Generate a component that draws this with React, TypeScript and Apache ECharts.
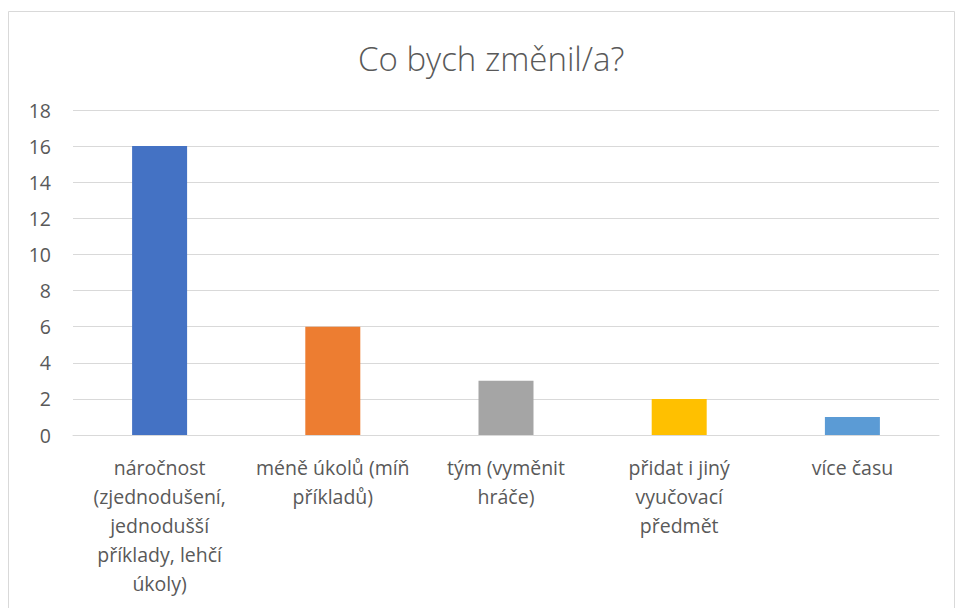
import React, { useEffect, useRef } from "react";
import * as echarts from "echarts";

const title = "Co bych změnil/a?";
const categories = [
  "náročnost\n(zjednodušení,\njednodušší\npříklady, lehčí\núkoly)",
  "méně úkolů (míň\npříkladů)",
  "tým (vyměnit\nhráče)",
  "přidat i jiný\nvyučovací\npředmět",
  "více času",
];
const values = [16, 6, 3, 2, 1];
const barColors = ["#4472C4", "#ED7D31", "#A5A5A5", "#FFC000", "#5B9BD5"];
const yTicks = { min: 0, max: 18, interval: 2 };

export default function App() {
  const ref = useRef<HTMLDivElement>(null);
  useEffect(() => {
    const chart = echarts.init(ref.current!, null, { renderer: "svg" });
    const font = "'Open Sans', 'Noto Sans', sans-serif";
    chart.setOption({
      animation: false,
      backgroundColor: "#ffffff",
      title: {
        text: title,
        left: 353,
        top: 37,
        textStyle: {
          fontFamily: font,
          fontSize: 33,
          fontWeight: 300,
          color: "#595959",
        },
      },
      graphic: [
        {
          type: "rect",
          shape: { x: 8.5, y: 11.5, width: 946, height: 620 },
          style: { fill: "none", stroke: "#D9D9D9", lineWidth: 1 },
          silent: true,
        },
      ],
      grid: { left: 73, right: 17, top: 110, bottom: 173, containLabel: false },
      xAxis: {
        type: "category",
        data: categories,
        axisLine: { lineStyle: { color: "#D9D9D9", width: 1 } },
        axisTick: { show: false },
        axisLabel: {
          interval: 0,
          margin: 18,
          color: "#595959",
          fontFamily: font,
          fontSize: 19.5,
          lineHeight: 29,
          align: "center",
        },
      },
      yAxis: {
        type: "value",
        min: yTicks.min,
        max: yTicks.max,
        interval: yTicks.interval,
        axisLine: { show: false },
        axisTick: { show: false },
        splitLine: { lineStyle: { color: "#D9D9D9", width: 1 } },
        axisLabel: {
          margin: 22,
          color: "#595959",
          fontFamily: font,
          fontSize: 19.5,
        },
      },
      series: [
        {
          type: "bar",
          data: values.map((v, i) => ({ value: v, itemStyle: { color: barColors[i] } })),
          barWidth: 55,
        },
      ],
    });
    return () => chart.dispose();
  }, []);
  return (
    <div
      ref={ref}
      style={{ position: "fixed", left: 0, top: 0, width: 956, height: 608 }}
    />
  );
}
